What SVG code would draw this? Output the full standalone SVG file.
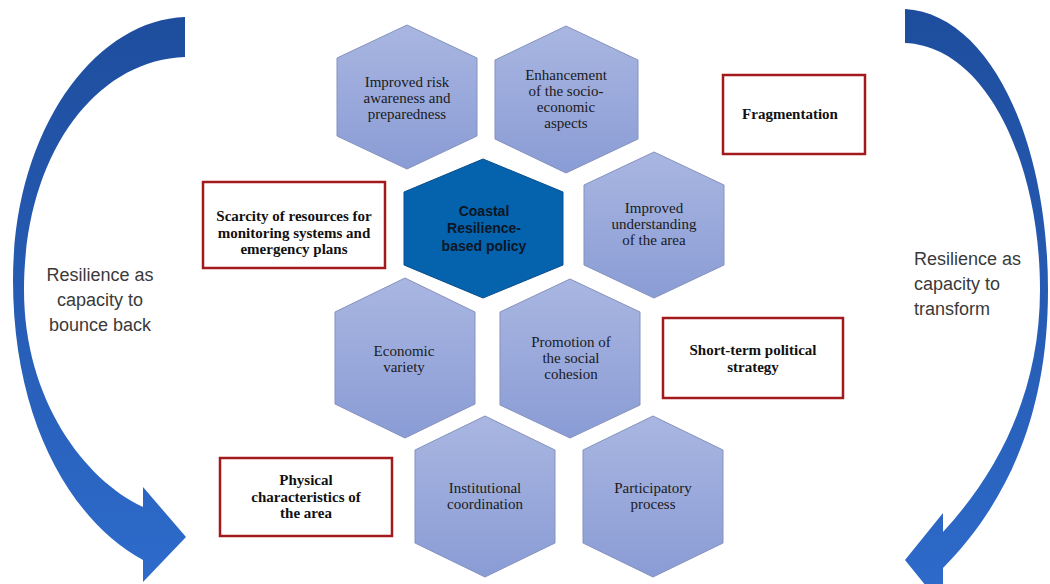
<svg xmlns="http://www.w3.org/2000/svg" width="1050" height="584" viewBox="0 0 1050 584">
  <defs>
    <linearGradient id="hexFill" x1="0" y1="0" x2="0" y2="1">
      <stop offset="0" stop-color="#A9B6E1"/>
      <stop offset="1" stop-color="#8A9CD5"/>
    </linearGradient>
    <linearGradient id="arrowFill" x1="0" y1="0" x2="0" y2="1">
      <stop offset="0" stop-color="#1E4D9D"/>
      <stop offset="1" stop-color="#2E6BCB"/>
    </linearGradient>
    <style>
      .hex { fill: url(#hexFill); stroke: #8592BE; stroke-width: 1; }
      .core { fill: #0562AC; stroke: #0A4E8C; stroke-width: 1; }
      .htxt { font-family: "Liberation Serif", "Times New Roman", serif; font-size: 15px; fill: #1a1a1a; text-anchor: middle; }
      .ctxt { font-family: "Liberation Sans", Arial, sans-serif; font-size: 14px; font-weight: bold; fill: #0b1626; text-anchor: middle; }
      .box { fill: #ffffff; stroke: #A3191C; stroke-width: 2.5; }
      .btxt { font-family: "Liberation Serif", "Times New Roman", serif; font-size: 15px; font-weight: bold; fill: #111111; text-anchor: middle; }
      .arrow { fill: url(#arrowFill); }
      .side { font-family: "Liberation Sans", Arial, sans-serif; font-size: 18px; fill: #3a3a3a; }
    </style>
  </defs>

  <rect width="1050" height="584" fill="#ffffff"/>

  <!-- curved arrows on both sides -->
  <g id="connectors">
    <path class="arrow" d="M185,17 C95,20 13,130 13,280 C13,420 70,520 143,560 L143,582 L186,537 L143,487 L143,507 C85,480 24,400 24,290 C24,155 95,60 185,57 Z"/>
    <path class="arrow" d="M905,9 C990,14 1048,140 1048,290 C1048,410 1010,500 943,568 L943,607 L905,560 L943,513 L943,532 C1000,470 1040,390 1040,290 C1040,160 985,46 905,43 Z"/>
  </g>

  <g id="label-bounce-back">
    <text class="side" x="100" y="281" text-anchor="middle">Resilience as</text>
    <text class="side" x="100" y="306" text-anchor="middle">capacity to</text>
    <text class="side" x="100" y="331" text-anchor="middle">bounce back</text>
  </g>
  <g id="label-transform">
    <text class="side" x="914" y="265">Resilience as</text>
    <text class="side" x="914" y="290">capacity to</text>
    <text class="side" x="914" y="315">transform</text>
  </g>

  <!-- hexagon cluster -->
  <g id="hex-risk-awareness">
    <polygon class="hex" points="407,25 477,58 477,136 407,169 337,136 337,58"/>
    <text class="htxt" x="407" y="87">Improved risk</text>
    <text class="htxt" x="407" y="103">awareness and</text>
    <text class="htxt" x="407" y="119">preparedness</text>
  </g>
  <g id="hex-socio-economic">
    <polygon class="hex" points="566,26 638,60 638,139 566,173 495,139 495,60"/>
    <text class="htxt" x="566" y="80">Enhancement</text>
    <text class="htxt" x="566" y="96">of the socio-</text>
    <text class="htxt" x="566" y="112">economic</text>
    <text class="htxt" x="566" y="128">aspects</text>
  </g>
  <g id="hex-core-policy">
    <polygon class="core" points="483,159 563,192 563,265 483,298 404,265 404,192"/>
    <text class="ctxt" x="484" y="216">Coastal</text>
    <text class="ctxt" x="484" y="233">Resilience-</text>
    <text class="ctxt" x="484" y="251">based policy</text>
  </g>
  <g id="hex-understanding">
    <polygon class="hex" points="654,152 724,185 724,265 654,298 584,265 584,185"/>
    <text class="htxt" x="654" y="213">Improved</text>
    <text class="htxt" x="654" y="229">understanding</text>
    <text class="htxt" x="654" y="245">of the area</text>
  </g>
  <g id="hex-economic-variety">
    <polygon class="hex" points="405,278 475,312 475,404 405,438 335,404 335,312"/>
    <text class="htxt" x="404" y="356">Economic</text>
    <text class="htxt" x="404" y="372">variety</text>
  </g>
  <g id="hex-social-cohesion">
    <polygon class="hex" points="570,279 640,312 640,405 570,438 500,405 500,312"/>
    <text class="htxt" x="571" y="347">Promotion of</text>
    <text class="htxt" x="571" y="363">the social</text>
    <text class="htxt" x="571" y="379">cohesion</text>
  </g>
  <g id="hex-institutional">
    <polygon class="hex" points="485,416 555,450 555,543 485,577 415,543 415,450"/>
    <text class="htxt" x="485" y="493">Institutional</text>
    <text class="htxt" x="485" y="509">coordination</text>
  </g>
  <g id="hex-participatory">
    <polygon class="hex" points="653,416 723,450 723,543 653,577 583,543 583,450"/>
    <text class="htxt" x="653" y="493">Participatory</text>
    <text class="htxt" x="653" y="509">process</text>
  </g>

  <!-- barrier boxes -->
  <g id="box-fragmentation">
    <rect class="box" x="723" y="75" width="142" height="79"/>
    <text class="btxt" x="790" y="119">Fragmentation</text>
  </g>
  <g id="box-scarcity">
    <rect class="box" x="203" y="182" width="182" height="86"/>
    <text class="btxt" x="294" y="221">Scarcity of resources for</text>
    <text class="btxt" x="294" y="238">monitoring systems and</text>
    <text class="btxt" x="294" y="254">emergency plans</text>
  </g>
  <g id="box-short-term">
    <rect class="box" x="663" y="318" width="180" height="80"/>
    <text class="btxt" x="753" y="355">Short-term political</text>
    <text class="btxt" x="753" y="372">strategy</text>
  </g>
  <g id="box-physical">
    <rect class="box" x="220" y="458" width="172" height="78"/>
    <text class="btxt" x="306" y="485">Physical</text>
    <text class="btxt" x="306" y="502">characteristics of</text>
    <text class="btxt" x="306" y="518">the area</text>
  </g>
</svg>
